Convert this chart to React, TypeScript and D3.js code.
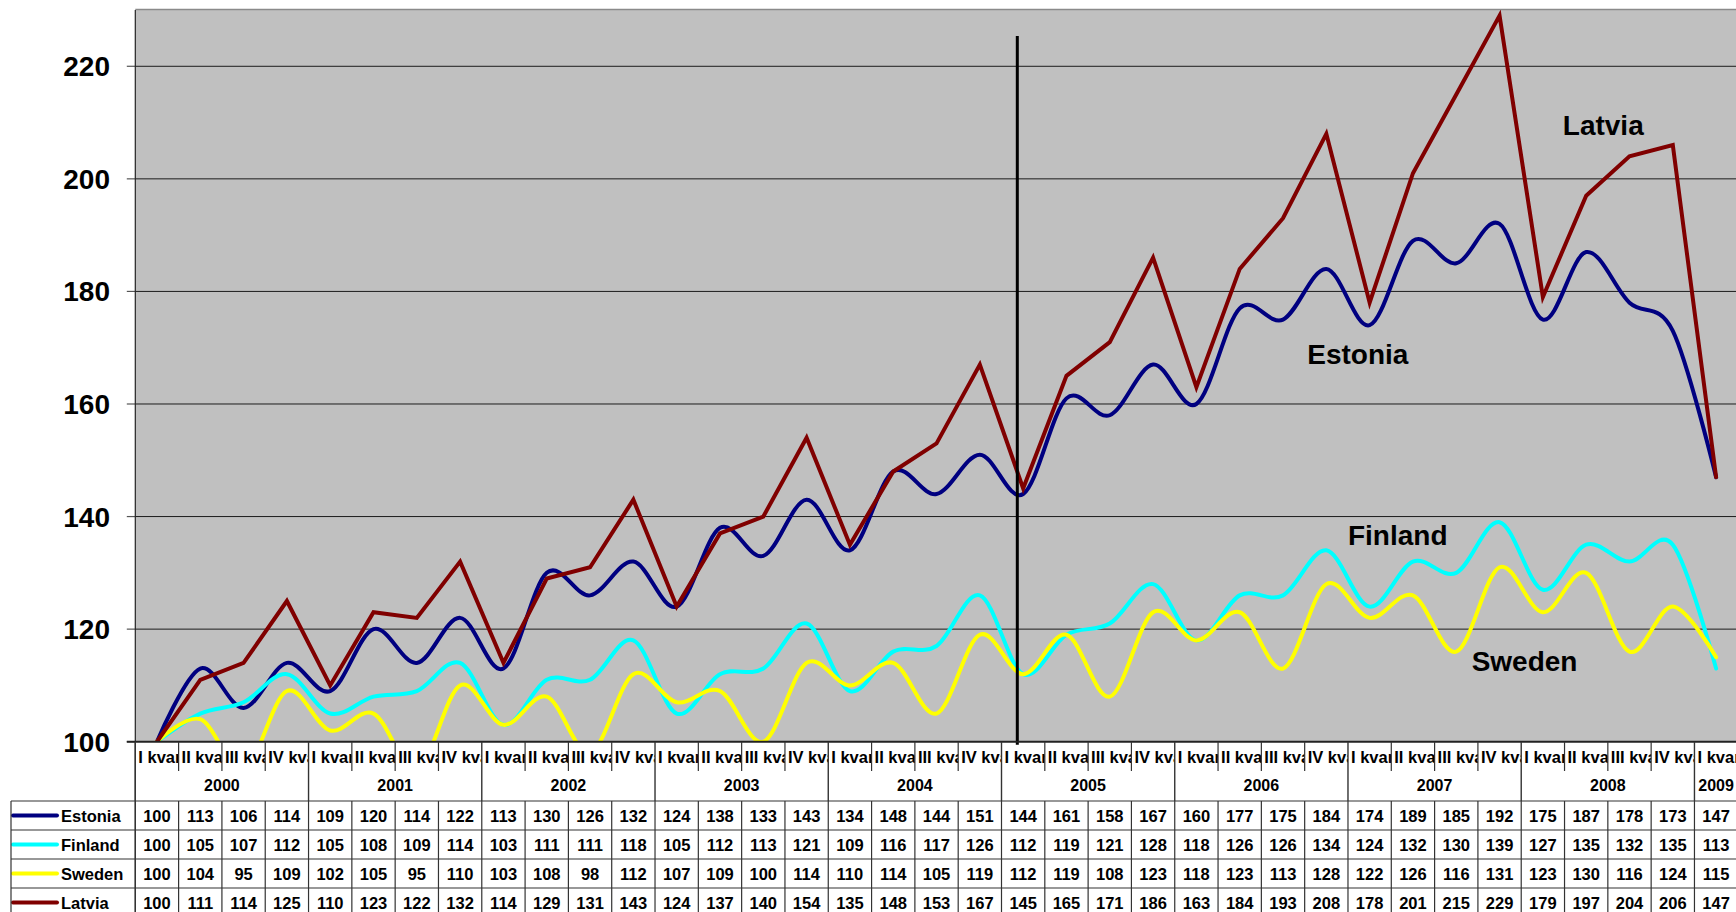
import React from "react";
import * as d3 from "d3";

const years = ["2000", "2001", "2002", "2003", "2004", "2005", "2006", "2007", "2008", "2009"];
const quarterNames = ["I kvartal", "II kvartal", "III kvartal", "IV kvartal"];
const categories: { year: string; q: number }[] = [];
years.forEach((y) => {
  const n = y === "2009" ? 1 : 4;
  for (let q = 0; q < n; q++) categories.push({ year: y, q });
});

const estonia = [100, 113, 106, 114, 109, 120, 114, 122, 113, 130, 126, 132, 124, 138, 133, 143, 134, 148, 144, 151, 144, 161, 158, 167, 160, 177, 175, 184, 174, 189, 185, 192, 175, 187, 178, 173, 147];
const finland = [100, 105, 107, 112, 105, 108, 109, 114, 103, 111, 111, 118, 105, 112, 113, 121, 109, 116, 117, 126, 112, 119, 121, 128, 118, 126, 126, 134, 124, 132, 130, 139, 127, 135, 132, 135, 113];
const sweden = [100, 104, 95, 109, 102, 105, 95, 110, 103, 108, 98, 112, 107, 109, 100, 114, 110, 114, 105, 119, 112, 119, 108, 123, 118, 123, 113, 128, 122, 126, 116, 131, 123, 130, 116, 124, 115];
const latvia = [100, 111, 114, 125, 110, 123, 122, 132, 114, 129, 131, 143, 124, 137, 140, 154, 135, 148, 153, 167, 145, 165, 171, 186, 163, 184, 193, 208, 178, 201, 215, 229, 179, 197, 204, 206, 147];
const yTicks = [100, 120, 140, 160, 180, 200, 220];

const series = [
  { name: "Estonia", values: estonia, color: "#000080", smooth: true },
  { name: "Finland", values: finland, color: "#00FFFF", smooth: true },
  { name: "Sweden", values: sweden, color: "#FFFF00", smooth: true },
  { name: "Latvia", values: latvia, color: "#800000", smooth: false },
];

// in-plot name labels: [series name, category index (fractional), value]
const nameLabels: [string, number, number][] = [
  ["Latvia", 32.96, 207.8],
  ["Estonia", 27.06, 167.1],
  ["Finland", 28.0, 134.95],
  ["Sweden", 30.855, 112.6],
];

const W = 1736;
const H = 912;
const plotLeft = 135.3;
const plotTop = 10;
const plotBottom = 741.7;
const colW = 43.31;
const plotRight = plotLeft + colW * categories.length;
const FONT = "'Liberation Sans', Arial, sans-serif";

export default function App() {
  const x = d3
    .scaleBand<number>()
    .domain(categories.map((_, i) => i))
    .range([plotLeft, plotRight])
    .padding(0);
  const bw = x.bandwidth();
  const cx = (i: number) => (x(i) as number) + bw / 2;
  const xf = (f: number) => plotLeft + f * bw;
  const y = d3.scaleLinear().domain([100, 230]).range([plotBottom, plotTop]);

  const catTickBottom = 771;
  const tableTop = 801;
  const rowH = 29;
  const legendLeft = 11;

  const yearGroups: { year: string; start: number; n: number }[] = [];
  categories.forEach((c, i) => {
    const g = yearGroups[yearGroups.length - 1];
    if (g && g.year === c.year) g.n++;
    else yearGroups.push({ year: c.year, start: i, n: 1 });
  });

  const gridColor = "#1c1c1c";
  const tableLine = "#333";

  return (
    <svg
      width={W}
      height={H}
      style={{ position: "absolute", left: 0, top: 0, display: "block", background: "#fff" }}
      fontFamily={FONT}
    >
      <defs>
        <clipPath id="plotClip">
          <rect x={plotLeft} y={plotTop} width={plotRight - plotLeft} height={plotBottom - plotTop} />
        </clipPath>
      </defs>
      {/* plot background */}
      <rect x={plotLeft} y={plotTop} width={plotRight - plotLeft} height={plotBottom - plotTop} fill="#C0C0C0" />
      <line x1={plotLeft} x2={plotRight} y1={plotTop - 0.5} y2={plotTop - 0.5} stroke="#8a8a8a" strokeWidth={1.5} />

      {/* gridlines + y ticks */}
      {yTicks.map((t) => (
        <g key={t}>
          {t !== 100 && (
            <line x1={plotLeft} x2={plotRight} y1={y(t)} y2={y(t)} stroke={gridColor} strokeWidth={1} />
          )}
          <line x1={plotLeft - 8.5} x2={plotLeft} y1={y(t)} y2={y(t)} stroke="#555" strokeWidth={1.2} />
          <text x={110} y={y(t) + 10} textAnchor="end" fontSize={28} fontWeight="bold" fill="#000">
            {t}
          </text>
        </g>
      ))}

      {/* series lines */}
      <g clipPath="url(#plotClip)">
        {series.map((s) => {
          const gen = d3
            .line<number>()
            .x((_, i) => cx(i))
            .y((v) => y(v))
            .curve(s.smooth ? d3.curveCardinal.tension(0) : d3.curveLinear);
          return (
            <path
              key={s.name}
              d={gen(s.values) || ""}
              fill="none"
              stroke={s.color}
              strokeWidth={4}
              strokeLinejoin="miter"
              strokeLinecap="round"
            />
          );
        })}
      </g>

      {/* vertical annotation line at 2005 */}
      <line
        x1={(x(20) as number) + bw * 0.365}
        x2={(x(20) as number) + bw * 0.365}
        y1={36}
        y2={plotBottom + 3}
        stroke="#000"
        strokeWidth={3}
      />

      {/* axes */}
      <line x1={plotLeft} x2={plotLeft} y1={plotTop} y2={plotBottom} stroke="#222" strokeWidth={1.2} />
      <line x1={plotLeft - 8.5} x2={plotRight} y1={plotBottom} y2={plotBottom} stroke="#222" strokeWidth={2} />

      {/* name labels */}
      {nameLabels.map(([n, f, v]) => (
        <text key={n} x={xf(f)} y={y(v)} fontSize={28} fontWeight="bold" fill="#000">
          {n}
        </text>
      ))}

      {/* category label row */}
      {categories.map((c, i) => (
        <g key={"c" + i}>
          <svg x={x(i) as number} y={plotBottom + 1} width={bw} height={catTickBottom - plotBottom - 1} overflow="hidden">
            <text x={3} y={20.3} fontSize={16.5} fontWeight="bold" fill="#000">
              {quarterNames[c.q]}
            </text>
          </svg>
          {c.q !== 0 && (
            <line
              x1={x(i) as number}
              x2={x(i) as number}
              y1={plotBottom}
              y2={catTickBottom}
              stroke={tableLine}
              strokeWidth={1.2}
            />
          )}
        </g>
      ))}

      {/* year groups */}
      {yearGroups.map((g) => (
        <g key={g.year}>
          <line
            x1={x(g.start) as number}
            x2={x(g.start) as number}
            y1={plotBottom}
            y2={tableTop}
            stroke={tableLine}
            strokeWidth={1.4}
          />
          <text
            x={(x(g.start) as number) + (g.n * bw) / 2}
            y={790.5}
            textAnchor="middle"
            fontSize={16}
            fontWeight="bold"
            fill="#000"
          >
            {g.year}
          </text>
        </g>
      ))}

      {/* data table */}
      {series.map((s, r) => {
        const top = tableTop + r * rowH;
        const mid = top + rowH / 2;
        return (
          <g key={"r" + s.name}>
            <line x1={legendLeft} x2={plotRight} y1={top} y2={top} stroke={tableLine} strokeWidth={1.2} />
            <line x1={13} x2={57} y1={mid} y2={mid} stroke={s.color} strokeWidth={4} strokeLinecap="round" />
            <text x={61} y={mid + 6} fontSize={16.5} fontWeight="bold" fill="#000">
              {s.name}
            </text>
            {s.values.map((v, i) => (
              <text key={i} x={cx(i)} y={mid + 6} textAnchor="middle" fontSize={16.5} fontWeight="bold" fill="#000">
                {v}
              </text>
            ))}
          </g>
        );
      })}
      <line x1={legendLeft} x2={plotRight} y1={tableTop + 4 * rowH} y2={tableTop + 4 * rowH} stroke={tableLine} strokeWidth={1.2} />
      <line x1={legendLeft} x2={legendLeft} y1={tableTop} y2={H} stroke={tableLine} strokeWidth={1.2} />
      {categories.map((_, i) => (
        <line key={"v" + i} x1={x(i) as number} x2={x(i) as number} y1={tableTop} y2={H} stroke={tableLine} strokeWidth={1.2} />
      ))}
      <line x1={plotLeft} x2={plotLeft} y1={plotBottom} y2={H} stroke={tableLine} strokeWidth={1.4} />
    </svg>
  );
}
